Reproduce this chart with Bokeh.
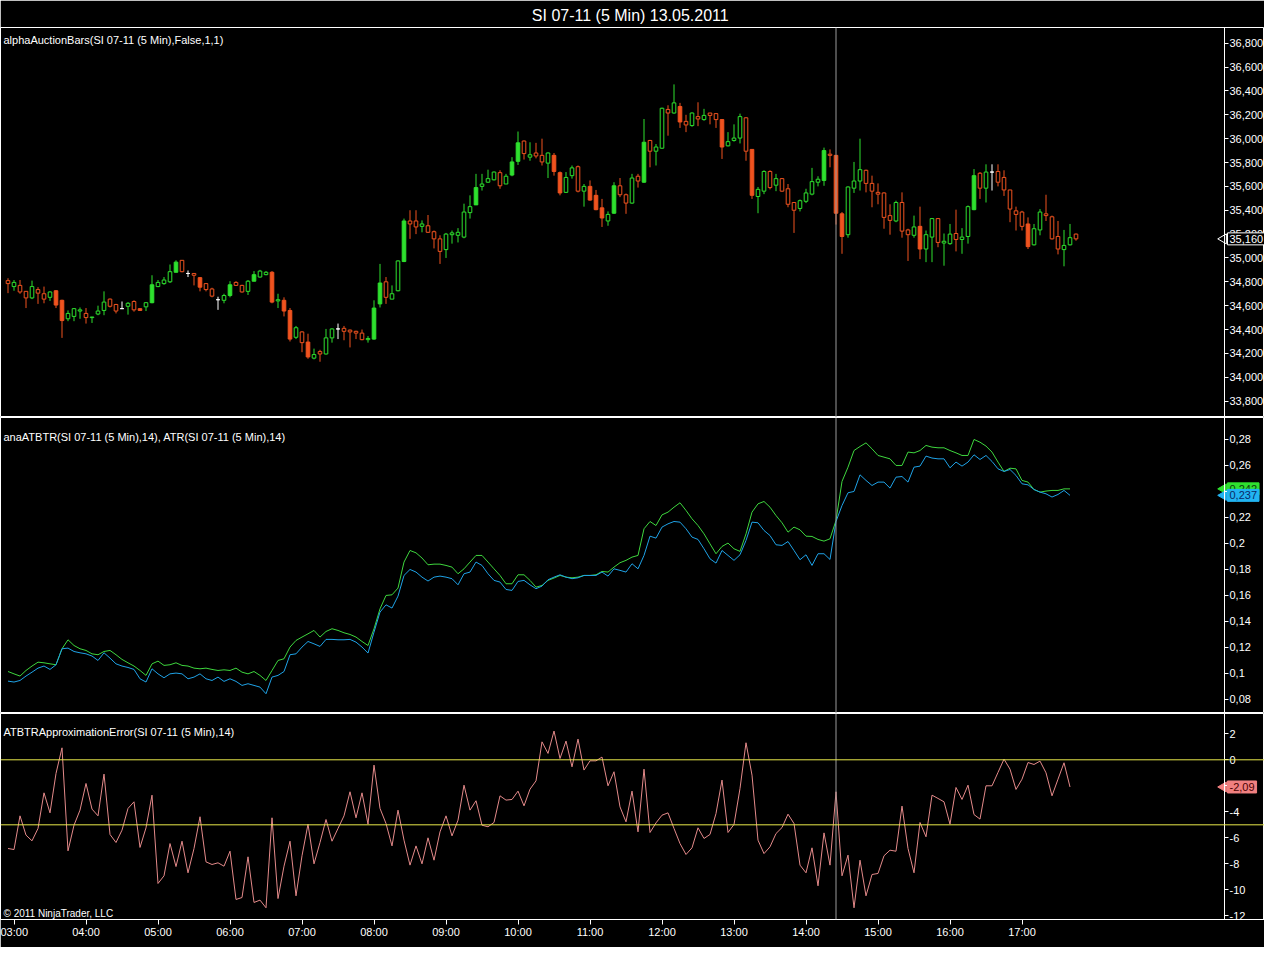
import math
import pandas as pd
from bokeh.plotting import figure
from bokeh.layouts import column
from bokeh.models import (ColumnDataSource, Range1d, Span, Label, FixedTicker,
                          CustomJSTickFormatter)
from bokeh.embed import file_html
from bokeh.resources import INLINE

# ---------------- data ----------------
chart_title = "SI 07-11 (5 Min)  13.05.2011"
panel1_name = "alphaAuctionBars(SI 07-11 (5 Min),False,1,1)"
panel2_name = "anaATBTR(SI 07-11 (5 Min),14), ATR(SI 07-11 (5 Min),14)"
panel3_name = "ATBTRApproximationError(SI 07-11 (5 Min),14)"
copyright_text = "\u00a9 2011 NinjaTrader, LLC"

first_bar_time = "2011-05-13 02:55"
bar_minutes = 5
crosshair_bar = 138

open_ = [
    34.81, 34.76, 34.77, 34.72, 34.665, 34.735, 34.70, 34.67, 34.725, 34.645,
    34.49, 34.51, 34.555, 34.535, 34.50, 34.53, 34.56, 34.655, 34.61, 34.575,
    34.595, 34.635, 34.575, 34.59, 34.625, 34.76, 34.785, 34.80, 34.88, 34.98,
    34.87, 34.87, 34.835, 34.785, 34.74, 34.65, 34.645, 34.685, 34.795, 34.77,
    34.72, 34.805, 34.84, 34.86, 34.88, 34.64, 34.645, 34.56, 34.335, 34.38,
    34.295, 34.16, 34.215, 34.195, 34.33, 34.405, 34.41, 34.395, 34.385, 34.37,
    34.315, 34.32, 34.615, 34.80, 34.655, 34.725, 34.97, 35.31, 35.31, 35.265,
    35.27, 35.22, 35.16, 35.07, 35.195, 35.19, 35.175, 35.38, 35.445, 35.60,
    35.635, 35.655, 35.715, 35.62, 35.695, 35.81, 35.98, 35.845, 35.88, 35.86,
    35.795, 35.86, 35.715, 35.55, 35.69, 35.765, 35.56, 35.60, 35.525, 35.42,
    35.31, 35.375, 35.605, 35.53, 35.46, 35.685, 35.635, 35.985, 35.895, 35.92,
    36.245, 36.215, 36.27, 36.145, 36.11, 36.185, 36.16, 36.215, 36.21, 36.16,
    35.94, 35.985, 36.005, 36.175, 35.91, 35.515, 35.56, 35.725, 35.61, 35.665,
    35.58, 35.465, 35.415, 35.475, 35.535, 35.635, 35.65, 35.87, 35.86, 35.37,
    35.195, 35.585, 35.645, 35.735, 35.625, 35.55, 35.545, 35.355, 35.31, 35.465,
    35.235, 35.19, 35.265, 35.075, 35.175, 35.33, 35.125, 35.12, 35.205, 35.155,
    35.18, 35.405, 35.71, 35.585, 35.72, 35.725, 35.675, 35.57, 35.395, 35.385,
    35.285, 35.11, 35.235, 35.37, 35.345, 35.18, 35.07, 35.11, 35.20,
]
high = [
    34.83, 34.815, 34.815, 34.72, 34.81, 34.755, 34.76, 34.72, 34.73, 34.65,
    34.56, 34.58, 34.585, 34.58, 34.505, 34.60, 34.72, 34.66, 34.615, 34.635,
    34.63, 34.645, 34.575, 34.63, 34.855, 34.815, 34.84, 34.945, 34.98, 34.98,
    34.895, 34.87, 34.84, 34.79, 34.75, 34.675, 34.70, 34.805, 34.805, 34.775,
    34.815, 34.89, 34.90, 34.89, 34.89, 34.70, 34.67, 34.58, 34.43, 34.385,
    34.365, 34.24, 34.23, 34.405, 34.41, 34.45, 34.43, 34.40, 34.39, 34.40,
    34.345, 34.645, 34.95, 34.84, 34.77, 34.98, 35.33, 35.40, 35.40, 35.315,
    35.36, 35.23, 35.19, 35.21, 35.23, 35.25, 35.455, 35.525, 35.705, 35.705,
    35.74, 35.725, 35.735, 35.705, 35.845, 36.06, 35.985, 35.97, 35.965, 36.00,
    35.885, 35.88, 35.725, 35.72, 35.775, 35.775, 35.62, 35.65, 35.57, 35.495,
    35.39, 35.635, 35.67, 35.54, 35.705, 35.705, 36.165, 35.99, 35.955, 36.26,
    36.28, 36.455, 36.30, 36.20, 36.22, 36.305, 36.25, 36.215, 36.215, 36.165,
    36.055, 36.12, 36.21, 36.18, 35.91, 35.595, 35.735, 35.735, 35.705, 35.67,
    35.62, 35.465, 35.49, 35.58, 35.755, 35.685, 35.925, 35.91, 35.86, 35.385,
    35.60, 35.805, 36.00, 35.74, 35.69, 35.625, 35.55, 35.45, 35.48, 35.55,
    35.245, 35.355, 35.43, 35.23, 35.335, 35.335, 35.205, 35.285, 35.405, 35.25,
    35.44, 35.745, 35.72, 35.785, 35.785, 35.785, 35.735, 35.57, 35.43, 35.395,
    35.34, 35.285, 35.41, 35.53, 35.355, 35.31, 35.235, 35.285, 35.205,
]
low = [
    34.705, 34.725, 34.70, 34.58, 34.655, 34.615, 34.62, 34.64, 34.58, 34.33,
    34.47, 34.47, 34.49, 34.45, 34.455, 34.52, 34.52, 34.585, 34.535, 34.575,
    34.525, 34.55, 34.56, 34.555, 34.62, 34.755, 34.775, 34.79, 34.88, 34.88,
    34.84, 34.77, 34.72, 34.72, 34.67, 34.565, 34.62, 34.67, 34.765, 34.71,
    34.69, 34.805, 34.835, 34.855, 34.62, 34.58, 34.51, 34.30, 34.32, 34.21,
    34.155, 34.15, 34.13, 34.19, 34.29, 34.32, 34.31, 34.25, 34.32, 34.31,
    34.29, 34.315, 34.585, 34.615, 34.655, 34.72, 34.965, 35.16, 35.20, 35.215,
    35.21, 35.08, 34.95, 35.00, 35.12, 35.13, 35.165, 35.33, 35.445, 35.565,
    35.63, 35.65, 35.58, 35.62, 35.685, 35.78, 35.825, 35.815, 35.835, 35.775,
    35.67, 35.69, 35.525, 35.545, 35.665, 35.55, 35.43, 35.48, 35.40, 35.26,
    35.27, 35.37, 35.51, 35.37, 35.455, 35.59, 35.63, 35.76, 35.775, 35.915,
    36.025, 36.21, 36.09, 36.055, 36.10, 36.105, 36.15, 36.12, 36.09, 35.83,
    35.935, 35.975, 35.96, 35.815, 35.495, 35.375, 35.535, 35.575, 35.56, 35.555,
    35.425, 35.21, 35.39, 35.46, 35.525, 35.60, 35.605, 35.76, 35.28, 35.035,
    35.17, 35.545, 35.565, 35.55, 35.425, 35.45, 35.245, 35.195, 35.30, 35.17,
    34.975, 35.17, 34.99, 34.965, 34.965, 35.09, 34.935, 35.11, 35.055, 35.035,
    35.12, 35.40, 35.495, 35.465, 35.565, 35.60, 35.52, 35.30, 35.23, 35.23,
    35.075, 35.105, 35.19, 35.31, 35.155, 35.03, 34.93, 35.105, 35.145,
]
close = [
    34.785, 34.795, 34.715, 34.665, 34.76, 34.705, 34.655, 34.715, 34.605, 34.475,
    34.535, 34.575, 34.565, 34.50, 34.505, 34.555, 34.63, 34.595, 34.555, 34.575,
    34.62, 34.565, 34.56, 34.625, 34.775, 34.795, 34.815, 34.885, 34.965, 34.885,
    34.87, 34.855, 34.755, 34.735, 34.68, 34.65, 34.685, 34.775, 34.77, 34.715,
    34.805, 34.86, 34.89, 34.88, 34.63, 34.65, 34.555, 34.32, 34.415, 34.29,
    34.17, 34.19, 34.195, 34.33, 34.405, 34.405, 34.385, 34.38, 34.37, 34.315,
    34.325, 34.58, 34.79, 34.67, 34.70, 34.975, 35.31, 35.285, 35.26, 35.285,
    35.215, 35.16, 35.055, 35.20, 35.21, 35.215, 35.385, 35.43, 35.59, 35.62,
    35.665, 35.72, 35.605, 35.685, 35.805, 35.965, 35.875, 35.865, 35.855, 35.805,
    35.88, 35.725, 35.545, 35.675, 35.755, 35.56, 35.60, 35.485, 35.405, 35.335,
    35.365, 35.605, 35.53, 35.46, 35.67, 35.645, 35.97, 35.895, 35.93, 36.255,
    36.215, 36.30, 36.14, 36.115, 36.215, 36.165, 36.195, 36.195, 36.16, 35.93,
    35.975, 36.005, 36.185, 35.895, 35.525, 35.575, 35.725, 35.59, 35.665, 35.56,
    35.45, 35.40, 35.48, 35.545, 35.64, 35.66, 35.90, 35.86, 35.375, 35.18,
    35.595, 35.645, 35.74, 35.625, 35.56, 35.535, 35.34, 35.315, 35.465, 35.225,
    35.195, 35.26, 35.075, 35.195, 35.33, 35.13, 35.14, 35.20, 35.155, 35.175,
    35.43, 35.69, 35.585, 35.72, 35.72, 35.635, 35.57, 35.41, 35.365, 35.265,
    35.095, 35.245, 35.385, 35.355, 35.16, 35.075, 35.105, 35.17, 35.16,
]
# U = strong up (filled green), u = up (hollow green),
# D = strong down (filled red), d = down (hollow red), n = neutral (white)
bar_kind = list(
    "duddudduDD" "uuuduuuddn" "udDuUuuuUd" "ndDddnuUdd" "uUuuDuDDud"
    "Duduundddd" "uUUduuUddu" "ddduuuuuUu" "uuduUUdudd" "uDDuuduDDD"
    "uUddudUduu" "duDdududdD" "uuudDuudud" "dduuuuUdDD" "uuudddddud"
    "duDuuduudu" "uUdunddddd" "Duuddduud"
)

atbtr = [
    0.1015, 0.0997, 0.0980, 0.1023, 0.1057, 0.1087, 0.1082, 0.1074, 0.1067, 0.1190,
    0.1259, 0.1215, 0.1190, 0.1177, 0.1151, 0.1144, 0.1169, 0.1177, 0.1144, 0.1108,
    0.1082, 0.1057, 0.1023, 0.0985, 0.1074, 0.1095, 0.1062, 0.1067, 0.1082, 0.1062,
    0.1057, 0.1041, 0.1036, 0.1041, 0.1031, 0.1023, 0.1028, 0.1023, 0.1041, 0.1010,
    0.0997, 0.1015, 0.0985, 0.0946, 0.1023, 0.1100, 0.1113, 0.1203, 0.1254, 0.1280,
    0.1305, 0.1331, 0.1280, 0.1323, 0.1344, 0.1331, 0.1313, 0.1300, 0.1280, 0.1246,
    0.1215, 0.1344, 0.1497, 0.1600, 0.1605, 0.1657, 0.1857, 0.1946, 0.1928, 0.1888,
    0.1836, 0.1841, 0.1841, 0.1831, 0.1818, 0.1767, 0.1805, 0.1857, 0.1908, 0.1908,
    0.1857, 0.1805, 0.1754, 0.1690, 0.1690, 0.1759, 0.1759, 0.1716, 0.1664, 0.1677,
    0.1716, 0.1734, 0.1754, 0.1741, 0.1736, 0.1741, 0.1754, 0.1754, 0.1759, 0.1785,
    0.1780, 0.1818, 0.1852, 0.1870, 0.1895, 0.1908, 0.2113, 0.2169, 0.2138, 0.2220,
    0.2241, 0.2279, 0.2313, 0.2254, 0.2190, 0.2138, 0.2074, 0.1997, 0.1921, 0.1977,
    0.2003, 0.1959, 0.1939, 0.2074, 0.2241, 0.2305, 0.2323, 0.2279, 0.2215, 0.2159,
    0.2087, 0.2126, 0.2105, 0.2056, 0.2054, 0.2031, 0.2018, 0.2036, 0.2177, 0.2477,
    0.2587, 0.2715, 0.2746, 0.2774, 0.2728, 0.2677, 0.2664, 0.2651, 0.2600, 0.2600,
    0.2703, 0.2697, 0.2715, 0.2754, 0.2741, 0.2736, 0.2736, 0.2715, 0.2697, 0.2677,
    0.2677, 0.2800, 0.2779, 0.2749, 0.2703, 0.2626, 0.2554, 0.2579, 0.2574, 0.2485,
    0.2472, 0.2415, 0.2395, 0.2403, 0.2408, 0.2408, 0.2420, 0.2420,
]
atr = [
    0.0941, 0.0934, 0.0946, 0.0980, 0.1010, 0.1041, 0.1057, 0.1031, 0.1067, 0.1190,
    0.1195, 0.1169, 0.1159, 0.1151, 0.1134, 0.1100, 0.1159, 0.1118, 0.1074, 0.1057,
    0.1046, 0.1031, 0.0959, 0.0934, 0.1036, 0.0997, 0.0967, 0.0997, 0.1003, 0.0997,
    0.0959, 0.0972, 0.0997, 0.0959, 0.0946, 0.0972, 0.0939, 0.0959, 0.0939, 0.0908,
    0.0921, 0.0908, 0.0895, 0.0844, 0.0972, 0.0985, 0.1015, 0.1144, 0.1151, 0.1203,
    0.1246, 0.1228, 0.1208, 0.1262, 0.1262, 0.1259, 0.1259, 0.1262, 0.1241, 0.1203,
    0.1157, 0.1318, 0.1472, 0.1528, 0.1503, 0.1595, 0.1754, 0.1800, 0.1780, 0.1741,
    0.1711, 0.1741, 0.1749, 0.1741, 0.1729, 0.1682, 0.1767, 0.1780, 0.1857, 0.1831,
    0.1767, 0.1716, 0.1703, 0.1646, 0.1639, 0.1708, 0.1716, 0.1682, 0.1652, 0.1672,
    0.1721, 0.1741, 0.1759, 0.1741, 0.1729, 0.1736, 0.1754, 0.1754, 0.1754, 0.1780,
    0.1749, 0.1805, 0.1793, 0.1780, 0.1844, 0.1805, 0.1908, 0.2056, 0.2041, 0.2126,
    0.2151, 0.2169, 0.2164, 0.2113, 0.2049, 0.2031, 0.1959, 0.1882, 0.1849, 0.1946,
    0.1908, 0.1870, 0.1913, 0.2023, 0.2164, 0.2159, 0.2100, 0.2061, 0.1990, 0.1985,
    0.2015, 0.1946, 0.1875, 0.1913, 0.1831, 0.1921, 0.1921, 0.1877, 0.2169, 0.2292,
    0.2390, 0.2400, 0.2528, 0.2485, 0.2446, 0.2472, 0.2472, 0.2426, 0.2510, 0.2515,
    0.2472, 0.2587, 0.2595, 0.2672, 0.2657, 0.2651, 0.2651, 0.2582, 0.2626, 0.2595,
    0.2626, 0.2682, 0.2646, 0.2677, 0.2631, 0.2574, 0.2554, 0.2569, 0.2523, 0.2459,
    0.2451, 0.2415, 0.2395, 0.2382, 0.2357, 0.2377, 0.2408, 0.2370,
]
approx_error = [
    -6.82, -6.90, -4.31, -5.79, -6.23, -5.28, -2.54, -4.08, -1.05, 0.92,
    -7.00, -5.03, -3.87, -1.82, -3.79, -4.31, -1.10, -5.74, -6.36, -5.41,
    -3.74, -3.23, -6.74, -5.23, -2.72, -9.51, -8.92, -6.44, -8.21, -6.26,
    -8.69, -6.82, -4.38, -7.85, -8.05, -7.92, -8.18, -7.03, -10.74, -10.59,
    -7.46, -10.97, -10.79, -11.38, -4.46, -10.67, -8.18, -6.26, -10.46, -7.38,
    -4.95, -8.00, -6.36, -4.59, -6.26, -5.28, -4.31, -2.46, -4.46, -2.54,
    -4.95, -0.41, -3.74, -4.90, -6.62, -3.87, -6.18, -8.10, -6.62, -8.00,
    -6.00, -7.72, -5.54, -4.31, -5.85, -4.64, -1.95, -3.87, -3.15, -5.03,
    -5.15, -4.82, -2.77, -3.10, -3.05, -2.41, -3.54, -2.26, -1.62, 1.38,
    0.49, 2.21, 0.10, 1.44, -0.54, 1.59, -0.79, -0.08, -0.08, 0.21,
    -2.00, -0.92, -3.62, -4.77, -2.41, -5.54, -0.72, -5.59, -4.85, -4.26,
    -4.08, -5.28, -6.44, -7.28, -6.77, -5.23, -6.05, -5.74, -4.13, -1.56,
    -5.59, -4.97, -2.21, 1.31, -1.18, -6.18, -7.21, -6.69, -5.67, -5.21,
    -4.18, -4.90, -8.10, -8.69, -6.77, -9.69, -5.62, -8.10, -2.46, -8.92,
    -7.33, -11.38, -7.72, -10.46, -8.82, -8.74, -7.38, -6.95, -7.03, -3.56,
    -6.82, -8.69, -4.82, -5.92, -2.72, -2.97, -3.23, -4.95, -2.13, -3.05,
    -1.95, -4.21, -4.56, -2.00, -2.00, -0.97, 0.05, -0.72, -2.28, -1.49,
    -0.21, -0.36, -0.10, -1.00, -2.77, -1.49, -0.23, -2.09,
]
error_levels = [0, -5]

price_ticks = [33.8, 34.0, 34.2, 34.4, 34.6, 34.8, 35.0, 35.2, 35.4, 35.6,
               35.8, 36.0, 36.2, 36.4, 36.6, 36.8]
atr_ticks = [0.08, 0.10, 0.12, 0.14, 0.16, 0.18, 0.20, 0.22, 0.24, 0.26, 0.28]
error_ticks = [-12, -10, -8, -6, -4, -2, 0, 2]

last_price_text = "35,160"
last_atbtr_text = "0,242"
last_atr_text = "0,237"
last_error_text = "-2,09"

# ---------------- styling / layout ----------------
FONT = "Liberation Sans"
BLACK = "#000000"
WHITE = "#ffffff"
UP = "#2ee02e"
DOWN = "#f0531f"
ATBTR_COLOR = "#3ed63e"
ATR_COLOR = "#1fa2e6"
ERR_COLOR = "#e48a8a"
LEVEL_COLOR = "#e8e84a"
CROSS_COLOR = "#9a9a9a"

line_color_of = {"U": UP, "u": UP, "D": DOWN, "d": DOWN, "n": WHITE}
fill_color_of = {"U": UP, "u": BLACK, "D": DOWN, "d": BLACK, "n": WHITE}

n_bars = len(close)
times = pd.date_range(first_bar_time, periods=n_bars, freq=f"{bar_minutes}min")
bar_ms = bar_minutes * 60 * 1000
t0 = times[0].value // 10**6

W = 1264            # figure width (frame spans the whole width)
AXIS_PX = 1224      # screen x of the price-axis line inside the frame
px_per_bar = 6.0
x_start = t0 - 1.25 * bar_ms


def px_to_x(px):
    return x_start + px / px_per_bar * bar_ms


x_range = Range1d(x_start, px_to_x(W))
axis_x = px_to_x(AXIS_PX)

candles = ColumnDataSource(dict(
    t=times,
    high=high,
    low=low,
    top=[max(o, c) for o, c in zip(open_, close)],
    bottom=[min(o, c) for o, c in zip(open_, close)],
    line=[line_color_of[k] for k in bar_kind],
    fill=[fill_color_of[k] for k in bar_kind],
))
ind_times = times[:len(atbtr)]


def style_axis(ax):
    ax.axis_line_color = WHITE
    ax.major_tick_line_color = WHITE
    ax.minor_tick_line_color = None
    ax.major_tick_out = 4
    ax.major_tick_in = 0
    ax.major_label_text_color = WHITE
    ax.major_label_text_font = FONT
    ax.major_label_text_font_size = "11px"
    ax.major_label_standoff = 1


def make_fig(height, y_range, top, bottom, with_x):
    p = figure(width=W, height=height, x_axis_type="datetime",
               x_range=x_range, y_range=y_range,
               y_axis_location="right",
               x_axis_location="below" if with_x else None,
               toolbar_location=None, output_backend="svg",
               min_border_left=0, min_border_right=0,
               min_border_top=top, min_border_bottom=bottom,
               background_fill_color=BLACK, border_fill_color=BLACK,
               outline_line_color=WHITE, outline_line_width=1)
    p.grid.visible = False
    for ax in p.yaxis:
        style_axis(ax)
        ax.fixed_location = axis_x
    if with_x:
        for ax in p.xaxis:
            style_axis(ax)
            ax.major_tick_out = 5
            ax.major_label_standoff = 1
    p.add_layout(Span(location=float(times[crosshair_bar].value // 10**6),
                      dimension="height", line_color=CROSS_COLOR, line_width=1))
    return p


def panel_label(p, text, y_ref, dy, size="11px"):
    p.add_layout(Label(x=3, x_units="screen", y=y_ref, y_offset=dy, text=text,
                       text_color=WHITE, text_font=FONT, text_font_size=size,
                       text_baseline="middle", text_align="left"))


def value_box(p, y, text, bg, fg, border):
    p.scatter(x=[px_to_x(AXIS_PX - 1)], y=[y], marker="triangle",
              angle=math.pi / 2, size=10, fill_color=bg, line_color=border)
    lab = Label(x=AXIS_PX + 3, x_units="screen", y=y, text=text,
                text_color=fg, text_font=FONT, text_font_size="11px",
                text_baseline="middle", text_align="left",
                background_fill_color=bg, border_line_color=border)
    try:
        lab.padding = 2
    except Exception:
        pass
    p.add_layout(lab)


# ---------------- panel 1: price bars ----------------
p1_top = 36.932
p1 = make_fig(417, Range1d(33.6625, p1_top), 27, 0, False)
p1.title.text = chart_title
p1.title.align = "center"
p1.title.standoff = 8
p1.title.text_color = WHITE
p1.title.text_font = FONT
p1.title.text_font_size = "16px"
p1.title.text_font_style = "normal"
p1.title.background_fill_color = None
p1.segment(x0="t", y0="high", x1="t", y1="low", source=candles,
           line_color="line", line_width=1)
p1.vbar(x="t", width=0.6 * bar_ms, top="top", bottom="bottom", source=candles,
        fill_color="fill", line_color="line", line_width=1)
p1.yaxis.ticker = FixedTicker(ticks=price_ticks)
p1.yaxis.formatter = CustomJSTickFormatter(
    code="return tick.toFixed(3).replace('.', ',');")
panel_label(p1, panel1_name, p1_top, -12)
value_box(p1, close[-1], last_price_text, BLACK, WHITE, WHITE)

# ---------------- panel 2: ATBTR / ATR ----------------
p2_top = 0.2969
p2 = make_fig(296, Range1d(0.0692, p2_top), 0, 0, False)
p2.line(ind_times, atbtr, line_color=ATBTR_COLOR, line_width=1)
p2.line(ind_times, atr, line_color=ATR_COLOR, line_width=1)
p2.yaxis.ticker = FixedTicker(ticks=atr_ticks)
p2.yaxis.formatter = CustomJSTickFormatter(code="""
    let s = tick.toFixed(2);
    if (s.endsWith('0')) { s = s.slice(0, -1); }
    return s.replace('.', ',');
""")
panel_label(p2, panel2_name, p2_top, -19)
value_box(p2, atbtr[-1], last_atbtr_text, "#2fe02f", "#0b3d0b", "#2fe02f")
value_box(p2, atr[-1], last_atr_text, "#22b4f2", "#0a2a66", "#22b4f2")

# ---------------- panel 3: approximation error ----------------
p3_top = 3.56
p3_bottom = -12.28
p3 = make_fig(234, Range1d(p3_bottom, p3_top), 0, 28, True)
for lvl in error_levels:
    p3.add_layout(Span(location=lvl, dimension="width",
                       line_color=LEVEL_COLOR, line_width=1))
p3.line(ind_times, approx_error, line_color=ERR_COLOR, line_width=1)
p3.yaxis.ticker = FixedTicker(ticks=error_ticks)
p3.yaxis.formatter = CustomJSTickFormatter(code="return tick.toFixed(0);")
hour_ticks = [t.value // 10**6 for t in
              pd.date_range("2011-05-13 03:00", "2011-05-13 17:00", freq="1h")]
p3.xaxis.ticker = FixedTicker(ticks=hour_ticks)
p3.xaxis.formatter = CustomJSTickFormatter(code="""
    const d = new Date(tick);
    const h = String(d.getUTCHours()).padStart(2, '0');
    const m = String(d.getUTCMinutes()).padStart(2, '0');
    return h + ':' + m;
""")
panel_label(p3, panel3_name, p3_top, -18)
p3.add_layout(Label(x=3, x_units="screen", y=p3_bottom, y_offset=6,
                    text=copyright_text, text_color=WHITE, text_font=FONT,
                    text_font_size="10px", text_baseline="middle",
                    text_align="left"))
value_box(p3, approx_error[-1], last_error_text, "#f08080", "#4a0000", "#f08080")

layout = column(p1, p2, p3, spacing=0)
open("out.html", "w").write(file_html(layout, INLINE))
